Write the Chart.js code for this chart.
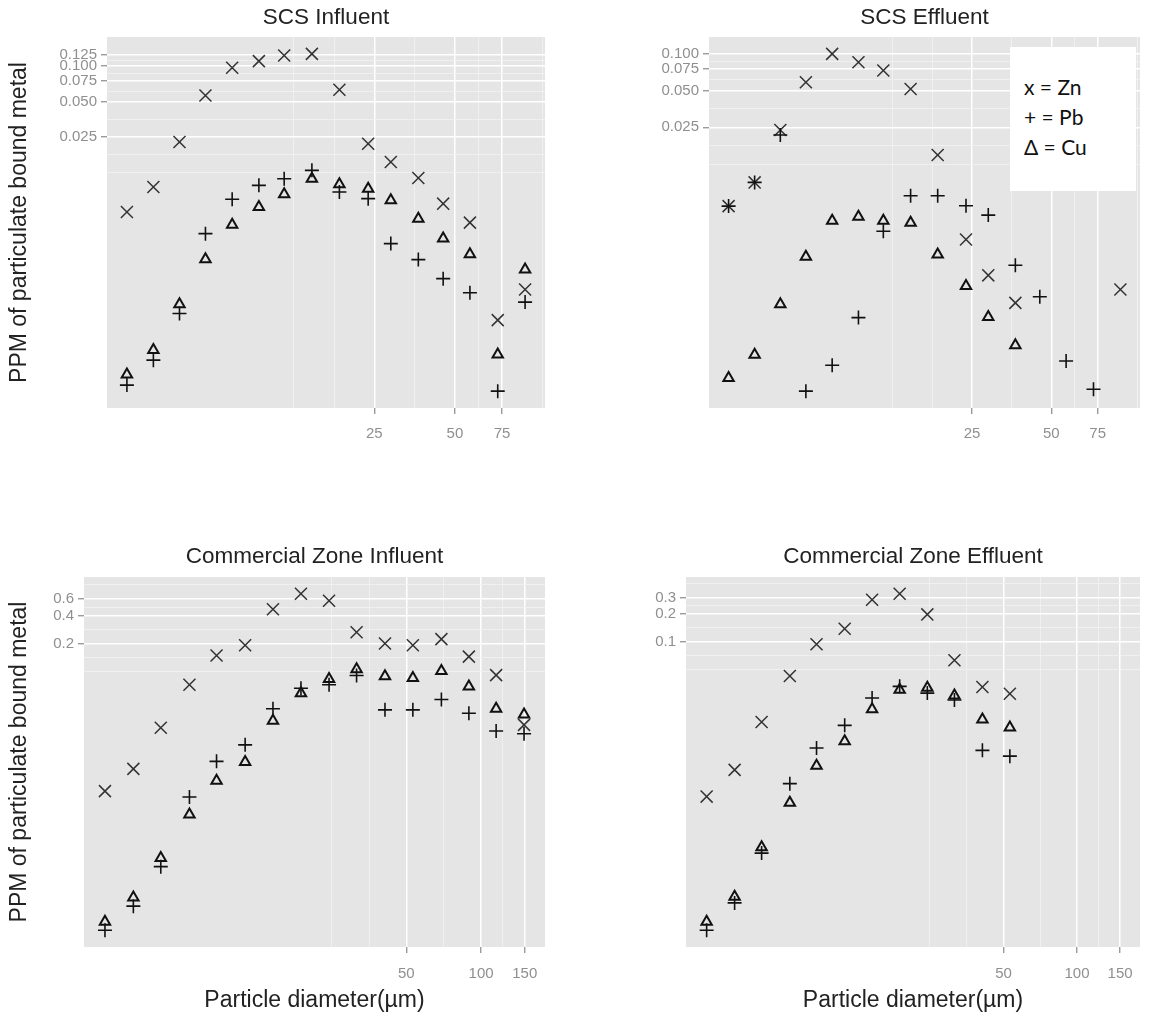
<!DOCTYPE html>
<html><head><meta charset="utf-8">
<script src="https://cdn.jsdelivr.net/npm/chart.js@4"></script>
<style>
html,body{margin:0;padding:0;background:#fff;}
#wrap{position:relative;width:1150px;height:1018px;overflow:hidden;background:#fff;}
canvas{position:absolute;}
#legend{position:absolute;left:1010px;top:47px;width:126px;height:144px;background:#fff;font-family:Lato,"Open Sans",sans-serif;font-size:21px;color:#111;}
#legend div{position:absolute;left:14px;line-height:30px;white-space:nowrap;}
</style></head><body>
<div id="wrap">
<canvas id="c1" width="575" height="490" style="left:0;top:0"></canvas>
<canvas id="c2" width="575" height="490" style="left:575px;top:0"></canvas>
<canvas id="c3" width="575" height="518" style="left:0;top:500px"></canvas>
<canvas id="c4" width="575" height="518" style="left:575px;top:500px"></canvas>
<div id="legend"><div style="top:25px">x = Zn</div><div style="top:55px">+ = Pb</div><div style="top:85px">&Delta; = Cu</div></div>
</div>
<script>
// ---------- data ----------
const scsDiam = [2.97, 3.73, 4.67, 5.84, 7.35, 9.25, 11.5, 14.6, 18.5, 23.7, 28.8, 36.5, 45.2, 56.9, 72.3, 91.5];
const comDiam = [3.05, 3.97, 5.12, 6.68, 8.59, 11.2, 14.5, 18.8, 24.4, 31.5, 41.0, 53.1, 69.2, 89.3, 115, 149];

const scsInfZn = [0.0058, 0.00944, 0.0227, 0.0563, 0.0965, 0.110, 0.1227, 0.1267, 0.0629, 0.02195, 0.01536, 0.01125, 0.00682, 0.00471, 0.000703, 0.00128];
const scsInfPb = [0.000198, 0.000322, 0.0008, 0.0038, 0.00743, 0.00975, 0.0111, 0.01306, 0.00856, 0.00752, 0.00313, 0.00229, 0.00158, 0.0012, 0.000176, 0.001];
const scsInfCu = [0.000244, 0.000392, 0.00096, 0.00231, 0.00453, 0.00639, 0.00818, 0.0111, 0.00994, 0.00914, 0.00728, 0.00509, 0.00345, 0.00254, 0.00036, 0.00189];

const scsEffZn = [0.00565, 0.00884, 0.0238, 0.0585, 0.1, 0.0854, 0.073, 0.0516, 0.01482, 0.00301, 0.00153, 0.00091, null, null, null, 0.00117];
const scsEffPb = [0.00565, 0.00884, 0.0216, 0.000172, 0.00028, 0.000689, 0.00352, 0.00687, 0.00687, 0.00569, 0.00477, 0.00185, 0.00102, 0.000304, 0.000178, null];
const scsEffCu = [0.00022, 0.000342, 0.000886, 0.00217, 0.00428, 0.00462, 0.00428, 0.00412, 0.00227, 0.00125, 0.000698, 0.000408, null, null, null, null];

const comInfZn = [0.00528, 0.00914, 0.0252, 0.0725, 0.1488, 0.1917, 0.466, 0.681, 0.575, 0.264, 0.2, 0.1917, 0.2232, 0.145, 0.0919, 0.027];
const comInfPb = [0.000172, 0.000311, 0.000822, 0.00457, 0.0110, 0.01652, 0.0401, 0.0666, 0.0725, 0.0911, 0.0391, 0.0391, 0.0504, 0.036, 0.0232, 0.0217];
const comInfCu = [0.000212, 0.000384, 0.00102, 0.00297, 0.0068, 0.01083, 0.0299, 0.0587, 0.0837, 0.1061, 0.0896, 0.0859, 0.1017, 0.0695, 0.0401, 0.0348];

const comEffZn = [0.0021, 0.00409, 0.01353, 0.0425, 0.0942, 0.1384, 0.286, 0.331, 0.198, 0.063, 0.0324, 0.0273, null, null, null, null];
const comEffPb = [0.0000749, 0.000148, 0.000513, 0.0029, 0.00707, 0.01243, 0.0246, 0.0329, 0.0278, 0.0234, 0.00666, 0.00576, null, null, null, null];
const comEffCu = [0.0000927, 0.000173, 0.000593, 0.0018, 0.00453, 0.00838, 0.0186, 0.0302, 0.0318, 0.0261, 0.01437, 0.0118, null, null, null, null];

// tick values / labels
const scsXTicks = [25, 50, 75];
const scsXTickLabels = ['25', '50', '75'];
const comXTicks = [50, 100, 150];
const comXTickLabels = ['50', '100', '150'];
const scsInfYTicks = [0.025, 0.05, 0.075, 0.1, 0.125];
const scsInfYTickLabels = ['0.025', '0.050', '0.075', '0.100', '0.125'];
const scsEffYTicks = [0.025, 0.05, 0.075, 0.1];
const scsEffYTickLabels = ['0.025', '0.050', '0.075', '0.100'];
const comInfYTicks = [0.2, 0.4, 0.6];
const comInfYTickLabels = ['0.2', '0.4', '0.6'];
const comEffYTicks = [0.1, 0.2, 0.3];
const comEffYTickLabels = ['0.1', '0.2', '0.3'];

const titles = ['SCS Influent', 'SCS Effluent', 'Commercial Zone Influent', 'Commercial Zone Effluent'];
const yAxisTitle = 'PPM of particulate bound metal';
const xAxisTitle = 'Particle diameter(\u00b5m)';

// ---------- helpers ----------
const FONT = '"Liberation Sans", Arial, sans-serif';
function pts(xs, ys) { return xs.map((x, i) => ys[i] == null ? null : {x: x, y: ys[i]}).filter(p => p); }
function logRange(vals) {
  const v = vals.filter(a => a != null && a > 0).map(Math.log);
  const lo = Math.min(...v), hi = Math.max(...v), e = (hi - lo) * 0.05;
  return [Math.exp(lo - e), Math.exp(hi + e)];
}
function ggBreaks(majors, lo, hi) {
  const b = majors.map(Math.log);
  const bd = b[1] - b[0];
  const bb = b.slice();
  if (Math.log(lo) < bb[0]) bb.unshift(bb[0] - bd);
  if (Math.log(hi) > bb[bb.length - 1]) bb.push(bb[bb.length - 1] + bd);
  const out = [];
  for (let i = 0; i < bb.length - 1; i++) out.push(bb[i], (bb[i] + bb[i + 1]) / 2);
  out.push(bb[bb.length - 1]);
  return out.map(Math.exp).filter(v => v >= lo && v <= hi);
}
function isMaj(v, majors) { return majors.some(m => Math.abs(m - v) / m < 1e-6); }
function labelFor(v, majors, labels) { const i = majors.findIndex(m => Math.abs(m - v) / m < 1e-6); return i >= 0 ? labels[i] : ''; }

const bgPlugin = {
  id: 'panelBg',
  beforeDraw(chart) {
    const {ctx, chartArea: a} = chart;
    ctx.save(); ctx.fillStyle = '#E5E5E5';
    ctx.fillRect(a.left, a.top, a.right - a.left, a.bottom - a.top);
    ctx.restore();
  }
};
const titlePlugin = {
  id: 'panelTitle',
  afterDraw(chart, args, opts) {
    const {ctx, chartArea: a} = chart;
    ctx.save();
    ctx.font = '22.5px ' + FONT; ctx.fillStyle = '#222';
    ctx.textAlign = 'center'; ctx.textBaseline = 'middle';
    ctx.fillText(opts.text, (a.left + a.right) / 2, opts.y);
    ctx.restore();
  }
};

function axis(majors, labels, lo, hi, fitFn) {
  const all = ggBreaks(majors, lo, hi);
  return {
    type: 'logarithmic', min: lo, max: hi,
    afterBuildTicks: s => { s.ticks = all.map(v => ({value: v, major: false})); },
    afterFit: fitFn,
    border: {display: false},
    grid: {
      color: c => isMaj(c.tick.value, majors) ? '#FFFFFF' : '#F2F2F2',
      lineWidth: c => isMaj(c.tick.value, majors) ? 1.5 : 0.8,
      tickColor: c => isMaj(c.tick.value, majors) ? '#8a8a8a' : 'rgba(0,0,0,0)',
      tickWidth: 1.2,
      tickLength: 6
    },
    ticks: {
      autoSkip: false, maxRotation: 0, minRotation: 0,
      font: {size: 15, family: FONT}, color: '#8f8f8f',
      callback: v => labelFor(v, majors, labels)
    }
  };
}

function panel(id, cfg) {
  const xr = logRange(cfg.x);
  const yr = logRange([].concat(cfg.zn, cfg.pb, cfg.cu));
  const xAxis = axis(cfg.xT, cfg.xL, xr[0], xr[1], s => { s.height = cfg.xH; });
  xAxis.ticks.padding = cfg.xPad;
  if (cfg.xTitle) xAxis.title = {display: true, text: xAxisTitle, color: '#222', font: {size: 23, family: FONT}, padding: {top: 0, bottom: 4}};
  const yAxis = axis(cfg.yT, cfg.yL, yr[0], yr[1], s => { s.width = cfg.yW; });
  yAxis.ticks.padding = 4;
  if (cfg.yTitle) yAxis.title = {display: true, text: yAxisTitle, color: '#222', font: {size: 23, family: FONT}, padding: {top: 6, bottom: 0}};
  const common = {pointBackgroundColor: 'rgba(0,0,0,0)', showLine: false};
  return new Chart(document.getElementById(id), {
    type: 'scatter',
    data: {datasets: [
      Object.assign({label: 'Cu', data: pts(cfg.x, cfg.cu), pointStyle: 'triangle', pointRadius: 6, pointBorderColor: '#111', pointBorderWidth: 2}, common),
      Object.assign({label: 'Pb', data: pts(cfg.x, cfg.pb), pointStyle: 'cross', pointRadius: 7, pointBorderColor: '#111', pointBorderWidth: 1.6}, common),
      Object.assign({label: 'Zn', data: pts(cfg.x, cfg.zn), pointStyle: 'crossRot', pointRadius: 8.5, pointBorderColor: '#333', pointBorderWidth: 1.5}, common)
    ]},
    options: {
      responsive: false, animation: false, devicePixelRatio: 1,
      layout: {padding: {left: 0, right: cfg.padR, top: cfg.padT, bottom: 0}},
      plugins: {legend: {display: false}, tooltip: {enabled: false}, panelTitle: {text: cfg.title, y: cfg.titleY}},
      scales: {x: xAxis, y: yAxis}
    },
    plugins: [bgPlugin, titlePlugin]
  });
}

panel('c1', {x: scsDiam, zn: scsInfZn, pb: scsInfPb, cu: scsInfCu, xT: scsXTicks, xL: scsXTickLabels, yT: scsInfYTicks, yL: scsInfYTickLabels,
  title: titles[0], titleY: 18, padT: 37, padR: 30, yW: 107, xH: 82, xPad: 11, yTitle: true, xTitle: false});
panel('c2', {x: scsDiam, zn: scsEffZn, pb: scsEffPb, cu: scsEffCu, xT: scsXTicks, xL: scsXTickLabels, yT: scsEffYTicks, yL: scsEffYTickLabels,
  title: titles[1], titleY: 18, padT: 37, padR: 5, yW: 134, xH: 82, xPad: 11, yTitle: false, xTitle: false});
panel('c3', {x: comDiam, zn: comInfZn, pb: comInfPb, cu: comInfCu, xT: comXTicks, xL: comXTickLabels, yT: comInfYTicks, yL: comInfYTickLabels,
  title: titles[2], titleY: 57, padT: 77, padR: 30, yW: 84, xH: 71, xPad: 12, yTitle: true, xTitle: true});
panel('c4', {x: comDiam, zn: comEffZn, pb: comEffPb, cu: comEffCu, xT: comXTicks, xL: comXTickLabels, yT: comEffYTicks, yL: comEffYTickLabels,
  title: titles[3], titleY: 57, padT: 77, padR: 4, yW: 111, xH: 71, xPad: 12, yTitle: false, xTitle: true});
</script>
</body></html>
